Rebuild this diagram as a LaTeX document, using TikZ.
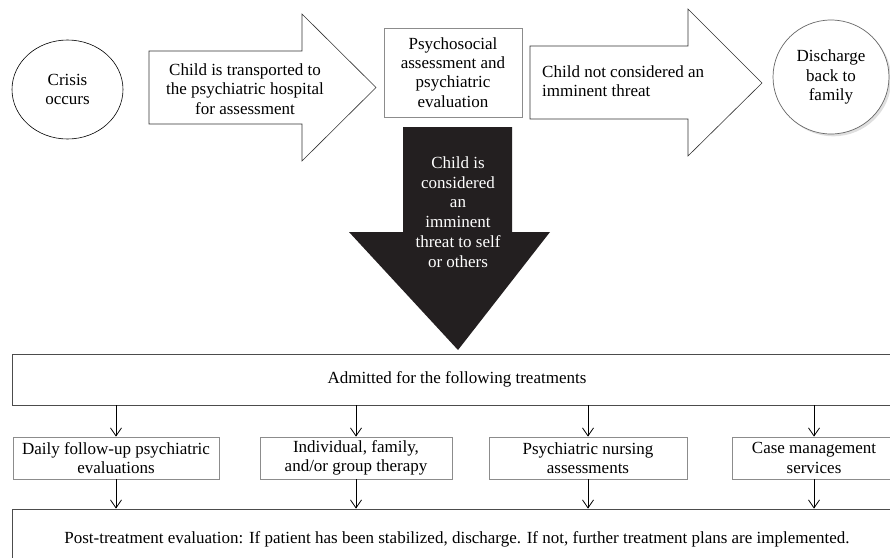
\documentclass[tikz,border=0pt]{standalone}
\usepackage{fontspec}
\setmainfont{Liberation Serif}
\usetikzlibrary{arrows.meta,shapes.geometric,shadows}

\definecolor{arrowblack}{RGB}{35,31,32}
\tikzset{
  txt/.style={align=center, inner sep=0pt},
  greybox/.style={draw=black!45, line width=0.8pt, align=center, inner sep=0pt},
  bigbox/.style={draw=black!70, line width=0.8pt, align=center, inner sep=0pt},
  blockarrow/.style={draw=black!80, line width=0.6pt, fill=white},
}

\begin{document}
\begin{tikzpicture}[x=1pt, y=-1pt, >={Straight Barb[length=8pt,width=11pt]},
    font=\fontsize{17}{19.3}\selectfont]
      \useasboundingbox (0,0) rectangle (890,557);
      \clip (0,0) rectangle (890,557);
      % top row
      \node[ellipse, draw, line width=0.6pt, minimum width=111pt, minimum height=99pt, txt]
        (crisis) at (67.5,89.5) {Crisis\\occurs};
      \draw[blockarrow] (149,51) -- (302,51) -- (302,14) -- (376,87.5)
        -- (302,161) -- (302,124) -- (149,124) -- cycle;
      \node[txt] (transport) at (245,89) {Child is transported to\\the psychiatric hospital\\for assessment};
      \node[greybox, minimum width=138pt, minimum height=89pt] (psych) at (453,72.5)
        {Psychosocial\\assessment and\\psychiatric\\evaluation};
      \draw[blockarrow] (530,46) -- (688,46) -- (688,9) -- (762,83)
        -- (688,156) -- (688,119) -- (530,119) -- cycle;
      \node[txt, align=left, anchor=west] (nothreat) at (542,81) {Child not considered an\\imminent threat};
      \node[ellipse, draw=black!60, line width=0.7pt, fill=white, drop shadow={opacity=0.25},
        minimum width=116pt, minimum height=114pt, txt] (discharge) at (831,77)
        {Discharge\\back to\\family};
      % down arrow
      \fill[arrowblack] (403,127) -- (512,127) -- (512,232) -- (550,232)
        -- (458,350) -- (349,232) -- (403,232) -- cycle;
      \node[txt, text=white, font=\fontsize{17}{19.8}\selectfont] (threat) at (458,212)
        {Child is\\considered\\an\\imminent\\threat to self\\or others};
      % treatments
      \node[bigbox, minimum width=890pt, minimum height=51pt] (admit) at (457,379.5)
        {Admitted for the following treatments};
      \node[greybox, minimum width=206pt, minimum height=42pt] (t1) at (116,458)
        {Daily follow-up psychiatric\\evaluations};
      \node[greybox, minimum width=192pt, minimum height=42pt] (t2) at (356,458)
        {Individual, family,\\and/or group therapy};
      \node[greybox, minimum width=198pt, minimum height=42pt] (t3) at (588,458)
        {Psychiatric nursing\\assessments};
      \node[greybox, minimum width=164pt, minimum height=42pt] (t4) at (814,458)
        {Case management\\services};
      \node[bigbox, minimum width=890pt, minimum height=60pt] (post) at (457,539)
        {Post-treatment evaluation: If patient has been stabilized, discharge. If not, further treatment plans are implemented.};
      \foreach \t in {t1,t2,t3,t4} {
        \draw[->, line width=0.8pt] (admit.south -| \t.north) -- (\t.north);
        \draw[->, line width=0.8pt] (\t.south) -- (post.north -| \t.south);
      }
    \end{tikzpicture}
\end{document}
